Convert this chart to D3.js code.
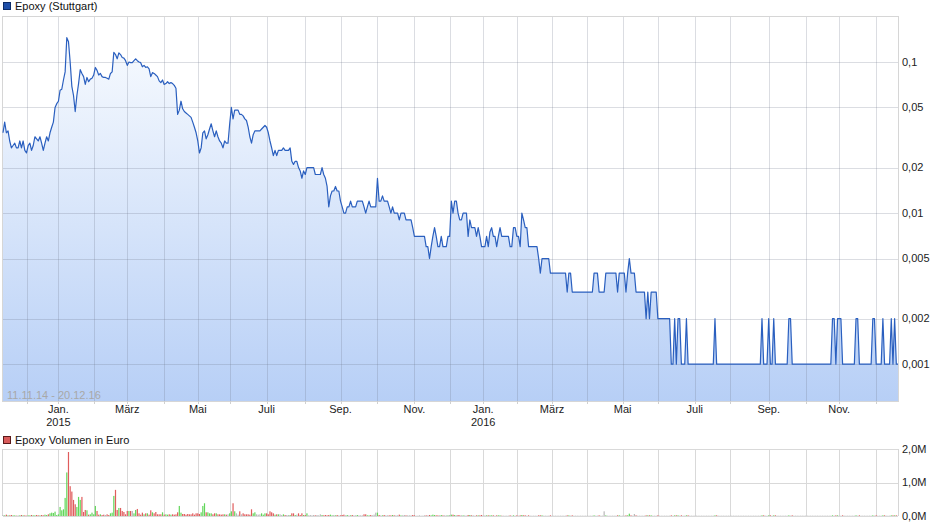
<!DOCTYPE html>
<html><head><meta charset="utf-8">
<script src="https://cdn.jsdelivr.net/npm/d3@7"></script>
<style>body{margin:0;background:#fff;}svg{display:block;font-family:"Liberation Sans",Arial,sans-serif;}</style>
</head><body><svg id="c" width="940" height="526"></svg>
<script>
// ---------- data ----------
const startDate = "2014-11-11";
const endDate = "2016-12-20";
const holidays = ["2014-12-24","2014-12-25","2014-12-26","2014-12-31","2015-01-01","2015-04-03","2015-04-06",
  "2015-05-01","2015-05-25","2015-12-24","2015-12-25","2015-12-31","2016-01-01","2016-03-25","2016-03-28",
  "2016-05-16","2016-10-03"];
const monthNames = ["Jan.","Feb.","März","Apr.","Mai","Juni","Juli","Aug.","Sep.","Okt.","Nov.","Dez."];
const priceTicks = [0.001,0.002,0.005,0.01,0.02,0.05,0.1];
const priceTickLabels = ["0,001","0,002","0,005","0,01","0,02","0,05","0,1"];
const volumeTicks = [0,1000000,2000000];
const volumeTickLabels = ["0,0M","1,0M","2,0M"];
const priceDomain = [0.00057, 0.2016];
const volumeDomain = [0, 2000000];
const priceTitle = "Epoxy (Stuttgart)";
const volumeTitle = "Epoxy Volumen in Euro";
const rangeLabel = "11.11.14 - 20.12.16";

// closing prices (EUR), one per trading day
const price = [
0.034,0.040,0.034,0.035,0.030,0.027,0.028,0.029,0.027,0.027,
0.030,0.027,0.030,0.026,0.025,0.028,0.029,0.026,0.028,0.032,
0.031,0.030,0.032,0.029,0.026,0.029,0.032,0.030,0.034,0.037,
0.040,0.050,0.053,0.055,0.065,0.066,0.076,0.086,0.145,0.136,
0.100,0.069,0.060,0.047,0.060,0.072,0.089,0.084,0.080,0.071,
0.079,0.074,0.077,0.078,0.082,0.092,0.088,0.082,0.084,0.080,
0.079,0.079,0.078,0.077,0.084,0.086,0.116,0.112,0.105,0.115,
0.112,0.107,0.106,0.102,0.095,0.100,0.099,0.099,0.102,0.105,
0.102,0.100,0.099,0.093,0.095,0.092,0.093,0.090,0.080,0.085,
0.084,0.082,0.080,0.075,0.073,0.076,0.071,0.072,0.074,0.072,
0.073,0.072,0.070,0.067,0.045,0.048,0.055,0.049,0.047,0.046,
0.045,0.044,0.043,0.040,0.037,0.034,0.030,0.025,0.027,0.034,
0.035,0.031,0.033,0.036,0.039,0.035,0.032,0.035,0.032,0.030,
0.029,0.027,0.030,0.029,0.029,0.039,0.050,0.042,0.048,0.048,
0.048,0.045,0.045,0.044,0.042,0.041,0.037,0.032,0.029,0.033,
0.035,0.035,0.035,0.035,0.036,0.037,0.038,0.037,0.034,0.030,
0.027,0.024,0.026,0.024,0.026,0.026,0.026,0.027,0.026,0.026,
0.026,0.027,0.022,0.021,0.022,0.022,0.020,0.019,0.017,0.019,
0.018,0.020,0.020,0.020,0.020,0.020,0.018,0.018,0.018,0.018,
0.020,0.018,0.017,0.015,0.011,0.013,0.014,0.014,0.015,0.014,
0.014,0.012,0.011,0.010,0.010,0.011,0.011,0.012,0.011,0.011,
0.011,0.012,0.012,0.012,0.012,0.011,0.010,0.011,0.012,0.011,
0.011,0.011,0.011,0.017,0.012,0.012,0.013,0.012,0.012,0.012,
0.011,0.010,0.011,0.010,0.010,0.010,0.009,0.010,0.010,0.010,
0.009,0.009,0.009,0.009,0.008,0.007,0.007,0.007,0.007,0.007,
0.007,0.007,0.006,0.006,0.005,0.006,0.007,0.008,0.007,0.006,
0.006,0.007,0.006,0.006,0.006,0.007,0.007,0.012,0.010,0.012,
0.012,0.010,0.009,0.009,0.010,0.010,0.010,0.007,0.009,0.008,
0.008,0.008,0.007,0.008,0.007,0.006,0.006,0.006,0.007,0.006,
0.0075,0.008,0.007,0.007,0.006,0.007,0.008,0.007,0.007,0.007,
0.007,0.007,0.006,0.006,0.008,0.008,0.007,0.007,0.006,0.010,
0.009,0.008,0.008,0.006,0.006,0.006,0.006,0.006,0.006,0.005,
0.004,0.005,0.005,0.005,0.005,0.005,0.004,0.004,0.004,0.004,
0.004,0.004,0.004,0.004,0.004,0.004,0.003,0.004,0.004,0.003,
0.003,0.003,0.003,0.003,0.003,0.003,0.003,0.003,0.003,0.003,
0.003,0.003,0.004,0.004,0.004,0.003,0.003,0.003,0.003,0.004,
0.004,0.004,0.004,0.004,0.004,0.004,0.003,0.004,0.004,0.004,
0.004,0.003,0.004,0.005,0.004,0.004,0.004,0.003,0.003,0.003,
0.003,0.003,0.003,0.002,0.003,0.002,0.003,0.003,0.003,0.003,
0.002,0.002,0.002,0.002,0.002,0.002,0.002,0.002,0.001,0.001,
0.002,0.001,0.002,0.002,0.001,0.001,0.001,0.002,0.001,0.001,
0.001,0.001,0.001,0.001,0.001,0.001,0.001,0.001,0.001,0.001,
0.001,0.001,0.001,0.001,0.002,0.001,0.001,0.001,0.001,0.001,
0.001,0.001,0.001,0.001,0.001,0.001,0.001,0.001,0.001,0.001,
0.001,0.001,0.001,0.001,0.001,0.001,0.001,0.001,0.001,0.001,
0.001,0.001,0.002,0.001,0.001,0.001,0.002,0.001,0.001,0.002,
0.001,0.001,0.001,0.001,0.001,0.001,0.001,0.001,0.002,0.002,
0.001,0.001,0.001,0.001,0.001,0.001,0.001,0.001,0.001,0.001,
0.001,0.001,0.001,0.001,0.001,0.001,0.001,0.001,0.001,0.001,
0.001,0.001,0.001,0.001,0.002,0.002,0.001,0.002,0.002,0.002,
0.001,0.001,0.001,0.001,0.001,0.001,0.001,0.001,0.002,0.002,
0.001,0.001,0.001,0.001,0.001,0.001,0.001,0.001,0.002,0.002,
0.001,0.001,0.001,0.001,0.002,0.001,0.001,0.001,0.001,0.002,
0.001,0.002,0.001,0.001];

// traded volume in thousand EUR, one per trading day
const volumeK = [
30,20,40,20,20,30,20,20,10,20,
20,30,20,20,10,20,20,30,20,20,
30,20,20,30,20,40,30,50,80,100,
90,130,30,50,270,170,200,540,1300,1910,
890,730,480,350,270,570,480,570,120,180,
170,40,50,100,50,300,150,40,50,30,
40,30,50,30,80,100,600,780,180,240,
240,150,120,50,150,150,150,150,80,180,
210,80,40,100,50,80,80,40,170,110,
80,120,50,50,50,110,40,50,40,50,
40,50,40,50,110,300,100,60,60,40,
60,50,50,80,40,80,80,60,110,300,
380,110,110,80,80,50,80,80,50,50,
40,50,50,40,50,80,140,380,140,80,
40,140,50,80,50,50,50,40,200,80,
110,50,40,50,80,40,80,80,50,140,
110,80,40,50,50,50,30,50,30,30,
30,30,80,80,30,40,80,30,80,30,
30,80,20,30,20,30,20,30,20,50,
30,20,30,20,30,40,20,30,20,30,
20,20,30,40,20,30,20,20,30,20,
20,30,20,20,20,50,50,20,20,30,
20,40,100,100,30,20,20,30,20,20,
20,20,30,20,20,20,40,20,20,30,
20,20,20,20,30,20,10,10,20,10,
10,20,20,20,30,20,40,30,20,20,
20,30,20,20,20,20,30,40,40,30,
20,30,20,20,20,20,10,30,30,20,
20,10,20,20,20,30,10,20,20,20,
20,20,20,10,20,20,20,10,10,10,
10,10,20,10,20,10,20,10,20,30,
20,20,10,20,10,10,10,10,10,20,
20,20,10,10,10,10,20,10,10,10,
10,10,10,10,10,10,20,20,10,20,
10,10,10,10,10,10,10,10,10,10,
10,10,20,10,10,20,10,10,140,20,
10,10,10,10,10,10,20,20,10,10,
10,20,20,70,20,10,60,20,10,10,
10,10,10,20,20,20,20,10,10,10,
20,10,10,10,10,10,10,10,20,10,
20,20,20,10,20,10,10,20,20,10,
10,10,10,10,10,10,10,10,10,10,
10,10,10,10,20,20,10,10,10,10,
10,10,10,10,10,10,10,10,10,10,
10,10,10,10,10,10,10,10,10,10,
10,10,20,20,10,10,20,20,10,20,
20,10,10,10,10,10,10,10,20,10,
20,10,10,10,10,10,10,10,10,10,
10,10,10,10,10,10,10,10,10,10,
10,10,10,10,20,10,20,20,10,10,
20,10,10,10,10,10,10,10,20,10,
20,10,10,10,10,10,10,10,20,10,
20,10,10,10,20,20,10,10,10,20,
20,20,20,10];

// ---------- trading calendar ----------
const fmt = d3.utcFormat("%Y-%m-%d");
const parse = d3.utcParse("%Y-%m-%d");
const hol = new Set(holidays);
const days = d3.utcDay.range(parse(startDate), d3.utcDay.offset(parse(endDate), 1))
  .filter(d => d.getUTCDay() !== 0 && d.getUTCDay() !== 6 && !hol.has(fmt(d)));
const N = Math.min(days.length, price.length);
const rows = d3.range(N).map(i => ({i, date: days[i], p: price[i], v: (volumeK[i] || 0) * 1000,
  dir: i === 0 ? 0 : Math.sign(price[i] - price[i - 1])}));

// ---------- layout ----------
const svg = d3.select("#c");
const L = 3, R = 898, T1 = 16, B1 = 401, T2 = 449, B2 = 516;
const x = d3.scaleLinear().domain([0, days.length - 1]).range([L, R]);
const y = d3.scaleLog().domain(priceDomain).range([B1, T1]);
const yv = d3.scaleLinear().domain(volumeDomain).range([B2, T2]);

// month boundaries (first trading day in each month)
const monthStarts = [];
days.forEach((d, i) => {
  if (i > 0 && d.getUTCMonth() !== days[i - 1].getUTCMonth()) monthStarts.push({i, d});
});

const defs = svg.append("defs");
const grad = defs.append("linearGradient").attr("id", "ag").attr("gradientUnits", "userSpaceOnUse")
  .attr("x1", 0).attr("x2", 0).attr("y1", T1).attr("y2", B1);
grad.append("stop").attr("offset", 0).attr("stop-color", "#fbfdff");
grad.append("stop").attr("offset", 1).attr("stop-color", "#b7cff6");

// area + line
const area = d3.area().x(d => x(d.i)).y0(B1).y1(d => y(d.p));
const line = d3.line().x(d => x(d.i)).y(d => y(d.p));
svg.append("path").datum(rows).attr("d", area).attr("fill", "url(#ag)");

// grids (drawn over area, translucent)
const gridCol = "rgba(110,120,140,0.25)";
const g1 = svg.append("g");
g1.selectAll("line.h").data(priceTicks).join("line")
  .attr("x1", L).attr("x2", R).attr("y1", d => Math.round(y(d)) + 0.5).attr("y2", d => Math.round(y(d)) + 0.5)
  .attr("stroke", gridCol);
g1.selectAll("line.v").data(monthStarts).join("line")
  .attr("x1", d => Math.round(x(d.i)) + 0.5).attr("x2", d => Math.round(x(d.i)) + 0.5)
  .attr("y1", T1).attr("y2", B1).attr("stroke", gridCol);
g1.append("rect").attr("x", L - 0.5).attr("y", T1 + 0.5).attr("width", R - L + 1).attr("height", B1 - T1)
  .attr("fill", "none").attr("stroke", "#d6d6d6");
g1.selectAll("line.t").data(monthStarts).join("line")
  .attr("x1", d => Math.round(x(d.i)) + 0.5).attr("x2", d => Math.round(x(d.i)) + 0.5)
  .attr("y1", B1).attr("y2", B1 + 3).attr("stroke", "#d0d0d0");

svg.append("path").datum(rows).attr("d", line).attr("fill", "none")
  .attr("stroke", "#2a5fbf").attr("stroke-width", 1.2).attr("stroke-linejoin", "round");

// y labels
svg.append("g").selectAll("text").data(priceTicks).join("text")
  .attr("x", 902).attr("y", d => y(d)).attr("dy", "0.35em")
  .attr("font-size", 11).attr("fill", "#222").text((d, k) => priceTickLabels[k]);

// x labels
const lab = monthStarts.filter(m => m.d.getUTCMonth() % 2 === 0);
const xl = svg.append("g").selectAll("text").data(lab).join("text")
  .attr("x", d => x(d.i)).attr("y", 413).attr("text-anchor", "middle")
  .attr("font-size", 11).attr("fill", "#222");
xl.append("tspan").text(d => monthNames[d.d.getUTCMonth()]);
xl.filter(d => d.d.getUTCMonth() === 0).append("tspan")
  .attr("x", d => x(d.i)).attr("dy", 13).text(d => d.d.getUTCFullYear());

svg.append("text").attr("x", 7).attr("y", 399).attr("font-size", 11).attr("fill", "#a8a8a8").text(rangeLabel);

// legend 1
svg.append("rect").attr("x", 3.5).attr("y", 2.5).attr("width", 7).attr("height", 7)
  .attr("fill", "#1f4fa8").attr("stroke", "#0d2b66");
svg.append("text").attr("x", 15).attr("y", 10).attr("font-size", 11).attr("fill", "#111").text(priceTitle);

// ---------- volume panel ----------
svg.append("rect").attr("x", 3.5).attr("y", 436.5).attr("width", 7).attr("height", 7)
  .attr("fill", "#d95b5b").attr("stroke", "#5a1a1a");
svg.append("text").attr("x", 15).attr("y", 444).attr("font-size", 11).attr("fill", "#111").text(volumeTitle);

const g2 = svg.append("g");
g2.selectAll("line.h").data(volumeTicks).join("line")
  .attr("x1", L).attr("x2", R).attr("y1", d => Math.round(yv(d)) + 0.5).attr("y2", d => Math.round(yv(d)) + 0.5)
  .attr("stroke", "#d9d9d9");
g2.selectAll("line.v").data(monthStarts).join("line")
  .attr("x1", d => Math.round(x(d.i)) + 0.5).attr("x2", d => Math.round(x(d.i)) + 0.5)
  .attr("y1", T2).attr("y2", B2).attr("stroke", "#d9d9d9");
g2.append("line").attr("x1", L - 0.5).attr("x2", L - 0.5).attr("y1", T2).attr("y2", B2).attr("stroke", "#d6d6d6");
g2.append("line").attr("x1", R + 0.5).attr("x2", R + 0.5).attr("y1", T2).attr("y2", B2).attr("stroke", "#d6d6d6");

const barCol = d => d.dir > 0 ? "#62d65a" : d.dir < 0 ? "#e05c5c" : "#b8b8b8";
svg.append("g").selectAll("rect").data(rows).join("rect")
  .attr("x", d => x(d.i) - 0.6).attr("width", 1.2)
  .attr("y", d => yv(d.v)).attr("height", d => B2 - yv(d.v))
  .attr("fill", barCol);

svg.append("g").selectAll("text").data(volumeTicks).join("text")
  .attr("x", 902).attr("y", d => yv(d)).attr("dy", "0.35em")
  .attr("font-size", 11).attr("fill", "#222").text((d, k) => volumeTickLabels[k]);
</script></body></html>
